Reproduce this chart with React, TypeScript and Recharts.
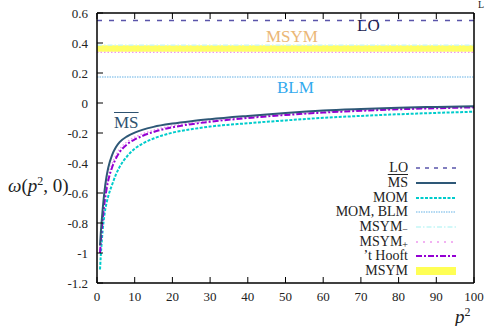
import { LineChart, Line, XAxis, YAxis, ReferenceLine, ReferenceArea } from "recharts";

const pValues = [0.8, 1, 1.2, 1.5, 2, 2.5, 3, 4, 5, 6, 8, 10, 12, 15, 20, 25, 30, 40, 50, 60, 70, 80, 90, 100];
const msValues = [-0.95, -0.87, -0.8, -0.71, -0.585, -0.495, -0.43, -0.347, -0.295, -0.261, -0.222, -0.197, -0.179, -0.159, -0.137, -0.121, -0.108, -0.086, -0.066, -0.05, -0.04, -0.032, -0.026, -0.021];
const hooftValues = [-1.0, -0.93, -0.865, -0.78, -0.665, -0.58, -0.515, -0.43, -0.37, -0.328, -0.275, -0.243, -0.22, -0.193, -0.162, -0.141, -0.125, -0.1, -0.08, -0.064, -0.052, -0.042, -0.035, -0.029];
const momValues = [-1.11, -1.02, -0.945, -0.85, -0.74, -0.67, -0.62, -0.545, -0.478, -0.426, -0.355, -0.305, -0.272, -0.237, -0.198, -0.175, -0.157, -0.135, -0.116, -0.099, -0.086, -0.075, -0.066, -0.058];
const msymPlusValues = [-0.98, -0.905, -0.84, -0.755, -0.64, -0.555, -0.49, -0.405, -0.348, -0.308, -0.258, -0.228, -0.206, -0.181, -0.152, -0.133, -0.118, -0.094, -0.075, -0.06, -0.048, -0.039, -0.032, -0.027];

const LO_LEVEL = 0.55;
const MSYM_LOW = 0.342;
const MSYM_HIGH = 0.385;
const MSYM_PLUS_LEVEL = 0.337;
const MSYM_MINUS_LEVEL = 0.386;
const BLM_LEVEL = 0.174;

const xTicks = [0, 10, 20, 30, 40, 50, 60, 70, 80, 90, 100];
const yTicks = [-1.2, -1, -0.8, -0.6, -0.4, -0.2, 0, 0.2, 0.4, 0.6];

const rows = pValues.map((p, i) => ({
  p,
  ms: msValues[i],
  hooft: hooftValues[i],
  mom: momValues[i],
  msymPlus: msymPlusValues[i],
}));

const font = "'Liberation Serif', serif";
const fmtY = (v: number) => (v === 0 ? "0" : String(Math.round(v * 10) / 10));

// gnuplot-style inward ticks
function BottomTick({ x, y, payload }: any) {
  return (
    <g>
      <line x1={x} x2={x} y1={y} y2={y - 6} stroke="#000" strokeWidth={1} />
      <text x={x} y={y + 18} textAnchor="middle" fontSize={13} fill="#222" fontFamily={font}>
        {payload.value}
      </text>
    </g>
  );
}
function LeftTick({ x, y, payload }: any) {
  return (
    <g>
      <line x1={x} x2={x + 6} y1={y} y2={y} stroke="#000" strokeWidth={1} />
      <text x={x - 9} y={y + 4.5} textAnchor="end" fontSize={13} fill="#222" fontFamily={font}>
        {fmtY(payload.value)}
      </text>
    </g>
  );
}
function TopTick({ x, y }: any) {
  return <line x1={x} x2={x} y1={y} y2={y + 6} stroke="#000" strokeWidth={1} />;
}
function RightTick({ x, y }: any) {
  return <line x1={x} x2={x - 6} y1={y} y2={y} stroke="#000" strokeWidth={1} />;
}

const legendRows = [
  { label: <span>LO</span>, kind: "lo" },
  { label: <span style={{ textDecoration: "overline" }}>MS</span>, kind: "ms" },
  { label: <span>MOM</span>, kind: "mom" },
  { label: <span>MOM, BLM</span>, kind: "blm" },
  { label: <span>MSYM<sub style={{ fontSize: 10, lineHeight: 0, verticalAlign: -2 }}>−</sub></span>, kind: "msymMinus" },
  { label: <span>MSYM<sub style={{ fontSize: 10, lineHeight: 0, verticalAlign: -2 }}>+</sub></span>, kind: "msymPlus" },
  { label: <span>’t Hooft</span>, kind: "hooft" },
  { label: <span>MSYM</span>, kind: "band" },
];

function Swatch({ kind }: { kind: string }) {
  const common = { x1: 0, x2: 40, y1: 5, y2: 5 };
  let el;
  if (kind === "lo") el = <line {...common} stroke="#5a55aa" strokeWidth={1.3} strokeDasharray="4 5" />;
  else if (kind === "ms") el = <line {...common} stroke="#2e5877" strokeWidth={2} />;
  else if (kind === "mom") el = <line {...common} stroke="#00cccc" strokeWidth={2} strokeDasharray="3 1.5" />;
  else if (kind === "blm") el = <line {...common} stroke="#99ccee" strokeWidth={1.5} strokeDasharray="1.5 1" />;
  else if (kind === "msymMinus") el = <line {...common} stroke="#c4f6f6" strokeWidth={1.5} strokeDasharray="5 2 1.5 2" />;
  else if (kind === "msymPlus") el = <line {...common} stroke="#ee99ee" strokeWidth={1.5} strokeDasharray="2 5" />;
  else if (kind === "hooft") el = <line {...common} stroke="#9400d3" strokeWidth={2} strokeDasharray="6 2 2 2" />;
  else el = <rect x={0} y={1} width={40} height={8} fill="#ffff55" />;
  return (
    <svg width={40} height={10} style={{ display: "block" }}>
      {el}
    </svg>
  );
}

function LegendBox() {
  return (
    <div style={{ position: "absolute", left: 250, top: 161, fontFamily: font, fontSize: 14, color: "#222" }}>
      {legendRows.map((r) => (
        <div key={r.kind} style={{ display: "flex", alignItems: "center", height: 14.7 }}>
          <div style={{ width: 158, textAlign: "right", lineHeight: "14px", whiteSpace: "nowrap" }}>{r.label}</div>
          <div style={{ marginLeft: 8 }}>
            <Swatch kind={r.kind} />
          </div>
        </div>
      ))}
    </div>
  );
}

const note = (left: number, top: number, color: string, content: any, size = 17) => (
  <div
    style={{
      position: "absolute",
      left,
      top,
      color,
      fontFamily: font,
      fontSize: size,
      lineHeight: 1,
      whiteSpace: "nowrap",
    }}
  >
    {content}
  </div>
);

export default function App() {
  return (
    <div style={{ position: "absolute", left: 0, top: 0, width: 486, height: 326, background: "#fff", overflow: "hidden" }}>
      <LineChart width={486} height={326} data={rows} margin={{ top: 12, right: 11, bottom: 13, left: 57 }}>
        <XAxis
          xAxisId="b"
          dataKey="p"
          type="number"
          domain={[0, 100]}
          ticks={xTicks}
          interval={0}
          orientation="bottom"
          height={30}
          tickSize={0}
          tickMargin={0}
          tickLine={false}
          stroke="#000"
          strokeWidth={1.5}
          tick={<BottomTick />}
          allowDataOverflow
        />
        <XAxis
          xAxisId="t"
          dataKey="p"
          type="number"
          domain={[0, 100]}
          ticks={xTicks}
          interval={0}
          orientation="top"
          height={1}
          tickSize={0}
          tickMargin={0}
          tickLine={false}
          tick={<TopTick />}
          stroke="#000"
          strokeWidth={1.5}
        />
        <YAxis
          yAxisId="l"
          type="number"
          domain={[-1.2, 0.6]}
          ticks={yTicks}
          interval={0}
          width={40}
          tickSize={0}
          tickMargin={0}
          tickLine={false}
          stroke="#000"
          strokeWidth={1.5}
          tick={<LeftTick />}
          allowDataOverflow
        />
        <YAxis
          yAxisId="r"
          orientation="right"
          type="number"
          domain={[-1.2, 0.6]}
          ticks={yTicks}
          interval={0}
          width={1}
          tickSize={0}
          tickMargin={0}
          tickLine={false}
          tick={<RightTick />}
          stroke="#000"
          strokeWidth={1.5}
        />
        <ReferenceArea xAxisId="b" yAxisId="l" y1={MSYM_LOW} y2={MSYM_HIGH} fill="#ffff66" fillOpacity={1} stroke="none" />
        <ReferenceLine xAxisId="b" yAxisId="l" y={MSYM_MINUS_LEVEL} stroke="#c4f6f6" strokeWidth={1.2} strokeDasharray="5 2 1.5 2" />
        <ReferenceLine xAxisId="b" yAxisId="l" y={MSYM_PLUS_LEVEL} stroke="#ee99ee" strokeWidth={1.2} strokeDasharray="1.5 2" />
        <ReferenceLine xAxisId="b" yAxisId="l" y={LO_LEVEL} stroke="#5a55aa" strokeWidth={1.3} strokeDasharray="5 7" />
        <ReferenceLine xAxisId="b" yAxisId="l" y={BLM_LEVEL} stroke="#99ccee" strokeWidth={1.5} strokeDasharray="1.5 1" />
        <Line xAxisId="b" yAxisId="l" dataKey="mom" type="monotone" stroke="#00cccc" strokeWidth={2} strokeDasharray="3 1.5" dot={false} isAnimationActive={false} />
        <Line xAxisId="b" yAxisId="l" dataKey="msymPlus" type="monotone" stroke="#ee99ee" strokeWidth={1.5} strokeDasharray="1.5 2" dot={false} isAnimationActive={false} />
        <Line xAxisId="b" yAxisId="l" dataKey="hooft" type="monotone" stroke="#9400d3" strokeWidth={2} strokeDasharray="6 2 2 2" dot={false} isAnimationActive={false} />
        <Line xAxisId="b" yAxisId="l" dataKey="ms" type="monotone" stroke="#2e5877" strokeWidth={2} dot={false} isAnimationActive={false} />
      </LineChart>
      <LegendBox />
      {note(357, 17, "#1b1b4f", "LO")}
      {note(266, 28, "#ebb777", "MSYM")}
      {note(277, 79, "#33aaee", "BLM")}
      {note(114, 114, "#2e5270", <span style={{ textDecoration: "overline" }}>MS</span>)}
      {note(8, 175, "#222", <span><i>ω</i>(<i>p</i><sup style={{ fontSize: 12 }}>2</sup>, 0)</span>, 19)}
      {note(455, 306, "#222", <span><i>p</i><sup style={{ fontSize: 12 }}>2</sup></span>, 19)}
      {note(478, 0, "#222", "L", 10)}
    </div>
  );
}
